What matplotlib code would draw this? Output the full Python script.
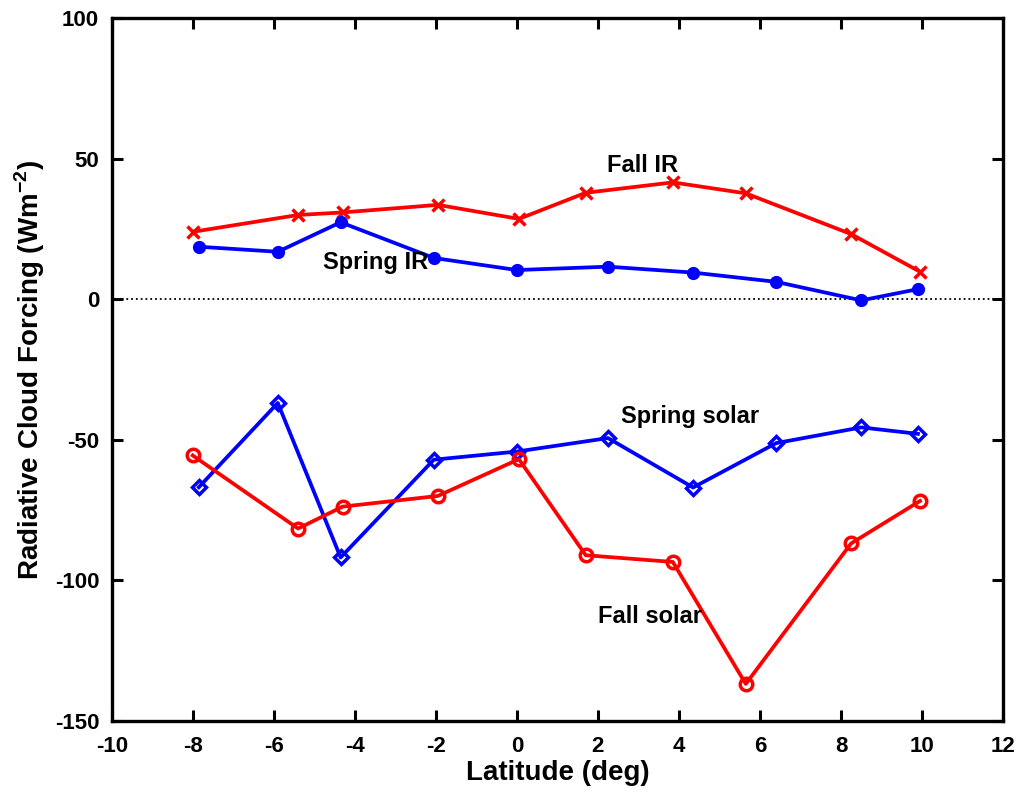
import matplotlib
matplotlib.use("Agg")
import matplotlib.pyplot as plt

plt.rcParams['font.family'] = ['Liberation Sans', 'DejaVu Sans']
plt.rcParams['axes.unicode_minus'] = False
plt.rcParams['mathtext.fontset'] = 'custom'
plt.rcParams['mathtext.bf'] = 'Liberation Sans:bold'
plt.rcParams['mathtext.rm'] = 'Liberation Sans'

# Latitude positions of the two seasonal campaigns (deg)
lat_fall = [-8.0, -5.4, -4.3, -1.95, 0.05, 1.7, 3.85, 5.65, 8.25, 9.95]
lat_spring = [-7.85, -5.9, -4.35, -2.05, 0.0, 2.25, 4.35, 6.4, 8.5, 9.9]

# Radiative cloud forcing (W m^-2)
fall_ir = [24.0, 30.0, 30.9, 33.6, 28.6, 37.9, 41.6, 37.7, 23.2, 9.8]
spring_ir = [18.7, 16.9, 27.4, 14.7, 10.4, 11.6, 9.5, 6.2, -0.4, 3.6]
spring_solar = [-66.9, -36.9, -91.9, -57.1, -54.2, -49.4, -67.0, -51.2, -45.6, -47.9]
fall_solar = [-55.6, -81.6, -73.8, -70.0, -56.9, -91.1, -93.5, -136.9, -86.9, -71.8]

xticks = [-10, -8, -6, -4, -2, 0, 2, 4, 6, 8, 10, 12]
yticks = [-150, -100, -50, 0, 50, 100]

fig = plt.figure(figsize=(10.21, 7.92), dpi=100)
ax = fig.add_axes([0.1094, 0.09, 0.873, 0.8869])

ax.axhline(0, color='black', linestyle=':', linewidth=1.3, zorder=1)

lw = 2.7
ax.plot(lat_fall, fall_ir, color='#ff0000', linewidth=lw, marker='x',
        markersize=8, markeredgewidth=2.5, zorder=3)
ax.plot(lat_spring, spring_ir, color='#0000ff', linewidth=lw, marker='o',
        markersize=8, markeredgewidth=1.5, zorder=3)
ax.plot(lat_spring, spring_solar, color='#0000ff', linewidth=lw, marker='D',
        markersize=7, markerfacecolor='none', markeredgewidth=2.5, zorder=3)
ax.plot(lat_fall, fall_solar, color='#ff0000', linewidth=lw, marker='o',
        markersize=9, markerfacecolor='none', markeredgewidth=2.5, zorder=3)

label_kw = dict(fontsize=17, fontweight='bold', ha='center', va='center', color='black')
ax.text(3.11, 47.6, 'Fall IR', **label_kw)
ax.text(-3.49, 13.0, 'Spring IR', **label_kw)
ax.text(4.27, -41.7, 'Spring solar', **label_kw)
ax.text(3.28, -112.8, 'Fall solar', **label_kw)

ax.set_xlim(-10, 12)
ax.set_ylim(-150, 100)
ax.set_xticks(xticks)
ax.set_yticks(yticks)

for s in ax.spines.values():
    s.set_linewidth(2.4)
ax.tick_params(direction='in', length=8, width=2.2, top=True, right=True,
               labelsize=16)
ax.tick_params(axis='x', pad=11)
ax.tick_params(axis='y', pad=9)
for lab in ax.get_xticklabels() + ax.get_yticklabels():
    lab.set_fontweight('bold')

ax.set_xlabel('Latitude (deg)', fontsize=20, fontweight='bold', labelpad=2)
ax.set_ylabel('Radiative Cloud Forcing (Wm$^{\\mathbf{-2}}$)', fontsize=20,
              fontweight='bold')
ax.yaxis.set_label_coords(-0.073, 0.5)

fig.savefig('out.png', dpi=100, facecolor='white')
